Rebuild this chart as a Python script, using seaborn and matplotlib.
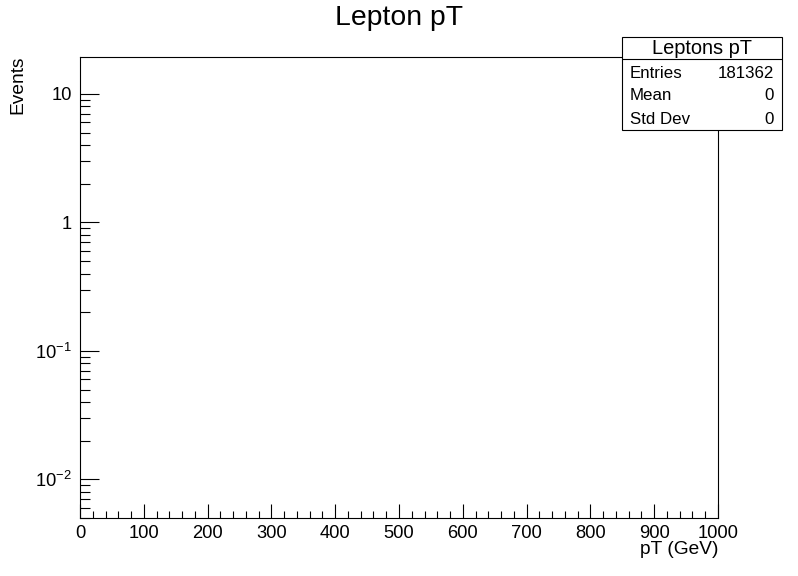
import matplotlib
matplotlib.use("Agg")
import matplotlib.pyplot as plt
import matplotlib.ticker as mticker
from matplotlib.patches import Rectangle
from matplotlib.lines import Line2D
import seaborn as sns

# chart content
title = "Lepton pT"
x_label = "pT (GeV)"
y_label = "Events"
x_range = [0, 1000]
y_range = [0.005, 19.4]
x_major = [0, 100, 200, 300, 400, 500, 600, 700, 800, 900, 1000]
y_major = [0.01, 0.1, 1, 10]
y_major_labels = [r"$\mathregular{10^{-2}}$", r"$\mathregular{10^{-1}}$", "1", "10"]
stats_title = "Leptons pT"
stats_labels = ["Entries", "Mean", "Std Dev"]
stats_values = ["181362", "0", "0"]

sns.set_theme(style="ticks")
plt.rcParams["font.family"] = ["Liberation Sans", "DejaVu Sans"]
plt.rcParams["mathtext.fontset"] = "custom"
plt.rcParams["mathtext.rm"] = "Liberation Sans"
plt.rcParams["mathtext.it"] = "Liberation Sans:italic"
plt.rcParams["text.color"] = "black"
plt.rcParams["axes.labelcolor"] = "black"
plt.rcParams["xtick.color"] = "black"
plt.rcParams["ytick.color"] = "black"

W, H = 798, 576
fig = plt.figure(figsize=(W / 100, H / 100), dpi=100)
fig.patch.set_facecolor("white")

# axes frame in pixel coords: x 80..718, y 57..518
ax = fig.add_axes([80 / W, 1 - 518 / H, (718 - 80) / W, (518 - 57) / H])
ax.set_facecolor("white")
ax.set_yscale("log")
ax.set_xlim(*x_range)
ax.set_ylim(*y_range)

for s in ax.spines.values():
    s.set_visible(True)
    s.set_color("black")
    s.set_linewidth(0.8)

ax.xaxis.set_major_locator(mticker.FixedLocator(x_major))
ax.xaxis.set_minor_locator(mticker.MultipleLocator(20))
ax.set_xticklabels([str(v) for v in x_major])
ax.yaxis.set_major_locator(mticker.FixedLocator(y_major))
ax.yaxis.set_minor_locator(mticker.LogLocator(base=10, subs=range(2, 10)))
ax.yaxis.set_minor_formatter(mticker.NullFormatter())
ax.set_yticklabels(y_major_labels)

ax.tick_params(axis="x", which="major", direction="in", length=10, width=0.8,
               labelsize=13.2, pad=5, colors="black", top=False)
ax.tick_params(axis="x", which="minor", direction="in", length=5, width=0.8,
               colors="black", top=False)
ax.tick_params(axis="y", which="major", direction="in", length=13.7, width=0.8,
               labelsize=13.2, pad=6, colors="black", right=False)
ax.tick_params(axis="y", which="minor", direction="in", length=7.2, width=0.8,
               colors="black", right=False)

# axis titles, ROOT-style placement
fig.text(718 / W, 1 - 550 / H, x_label, ha="right", va="center", fontsize=13.8, color="black")
fig.text(18 / W, 1 - 56 / H, y_label, ha="center", va="top", rotation=90,
         fontsize=13.8, color="black")
fig.text(399 / W, 1 - 18 / H, title, ha="center", va="center", fontsize=20.4, color="black")

# stats box
bx0, bx1, by0, by1, bsep = 622, 782, 37, 130, 59
fig.patches.append(Rectangle((bx0 / W, 1 - by1 / H), (bx1 - bx0) / W, (by1 - by0) / H,
                             transform=fig.transFigure, facecolor="white",
                             edgecolor="black", linewidth=0.8, zorder=5))
fig.lines.append(Line2D([bx0 / W, bx1 / W], [1 - bsep / H, 1 - bsep / H],
                        transform=fig.transFigure, color="black", linewidth=0.8, zorder=6))
fig.text((bx0 + bx1) / 2 / W, 1 - 48 / H, stats_title, ha="center", va="center",
         fontsize=14.4, color="black", zorder=7)
row_y = [73, 96, 119]
for lab, val, yy in zip(stats_labels, stats_values, row_y):
    fig.text(630 / W, 1 - yy / H, lab, ha="left", va="center", fontsize=12.2,
             color="black", zorder=7)
    fig.text(774 / W, 1 - yy / H, val, ha="right", va="center", fontsize=12.2,
             color="black", zorder=7)

fig.savefig("out.png", dpi=100, facecolor="white")
